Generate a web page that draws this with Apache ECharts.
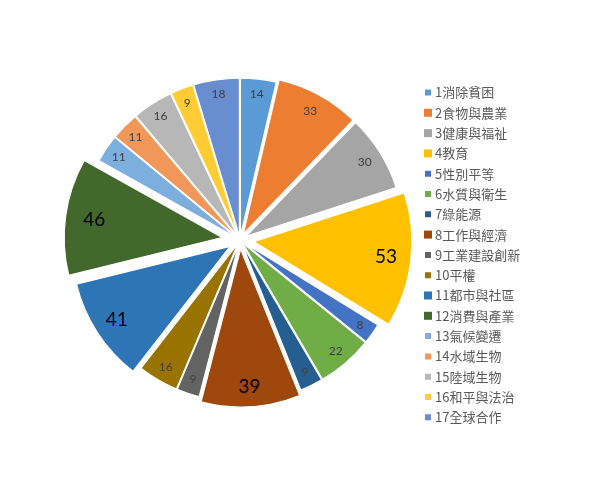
<!DOCTYPE html>
<html>
<head>
<meta charset="utf-8">
<script src="https://cdn.jsdelivr.net/npm/echarts@6/dist/echarts.min.js"></script>
<style>
  html, body { margin: 0; padding: 0; background: #fff; }
  #main { width: 600px; height: 480px; }
</style>
</head>
<body>
<div id="main"></div>
<script>
// SDG counts, clockwise from 12 o'clock
const names = ['1消除貧困', '2食物與農業', '3健康與福祉', '4教育', '5性別平等', '6水質與衛生',
  '7綠能源', '8工作與經濟', '9工業建設創新', '10平權', '11都市與社區', '12消費與產業',
  '13氣候變遷', '14水域生物', '15陸域生物', '16和平與法治', '17全球合作'];
const values = [14, 33, 30, 53, 8, 22, 9, 39, 9, 16, 41, 46, 11, 11, 16, 9, 18];

const colors = ['#5B9BD5', '#ED7D31', '#A5A5A5', '#FFC000', '#4472C4', '#70AD47',
  '#255E91', '#9E480E', '#636363', '#997300', '#2E75B6', '#43682B',
  '#7CAFDD', '#F1975A', '#B7B7B7', '#FFCD33', '#698ED0'];

// how far each slice is pulled out (px) -> slice indices
const explodeGroups = [
  { offset: 4, items: [0, 4, 5, 6, 8, 9, 12, 13, 14, 15, 16] },
  { offset: 7, items: [1, 2] },
  { offset: 9, items: [7] },
  { offset: 12, items: [10] },
  { offset: 14, items: [3] },
  { offset: 18, items: [11] }
];

const CENTER = [240, 240];
const R = 158;

const sliceSeries = explodeGroups.map(g => ({
  type: 'pie',
  center: CENTER,
  radius: [0, R],
  startAngle: 90,
  clockwise: true,
  selectedMode: 'multiple',
  selectedOffset: g.offset,
  avoidLabelOverlap: false,
  label: { show: false },
  labelLine: { show: false },
  emphasis: { disabled: true },
  data: values.map((v, i) => {
    const on = g.items.indexOf(i) >= 0;
    return {
      name: names[i],
      value: v,
      selected: on,
      itemStyle: on
        ? { color: colors[i], borderColor: '#fff', borderWidth: 1.2 }
        : { color: 'transparent', borderWidth: 0 }
    };
  })
}));

// transparent ring that only carries the value labels
const labelSeries = {
  type: 'pie',
  center: CENTER,
  radius: [126, 162],
  startAngle: 90,
  clockwise: true,
  silent: true,
  avoidLabelOverlap: false,
  z: 5,
  itemStyle: { color: 'transparent', borderWidth: 0 },
  labelLine: { show: false },
  label: {
    show: true,
    position: 'inside',
    formatter: '{c}',
    fontFamily: 'Lato',
    fontSize: 12,
    color: '#404040'
  },
  data: values.map((v, i) => ({
    name: names[i],
    value: v,
    label: v >= 39 ? { fontSize: 19, color: '#000' } : {}
  }))
};

const chart = echarts.init(document.getElementById('main'));
chart.setOption({
  animation: false,
  backgroundColor: '#fff',
  legend: {
    orient: 'vertical',
    left: 418,
    top: 81,
    icon: 'rect',
    itemWidth: 8,
    itemHeight: 8,
    itemGap: 7.3,
    selectedMode: false,
    textStyle: { fontSize: 13, color: '#595959', fontFamily: 'Noto Sans CJK TC', padding: [0, 0, 0, -2] },
    data: names.map((n, i) => ({ name: n, itemStyle: { color: colors[i] } }))
  },
  series: sliceSeries.concat([labelSeries])
});
</script>
</body>
</html>
